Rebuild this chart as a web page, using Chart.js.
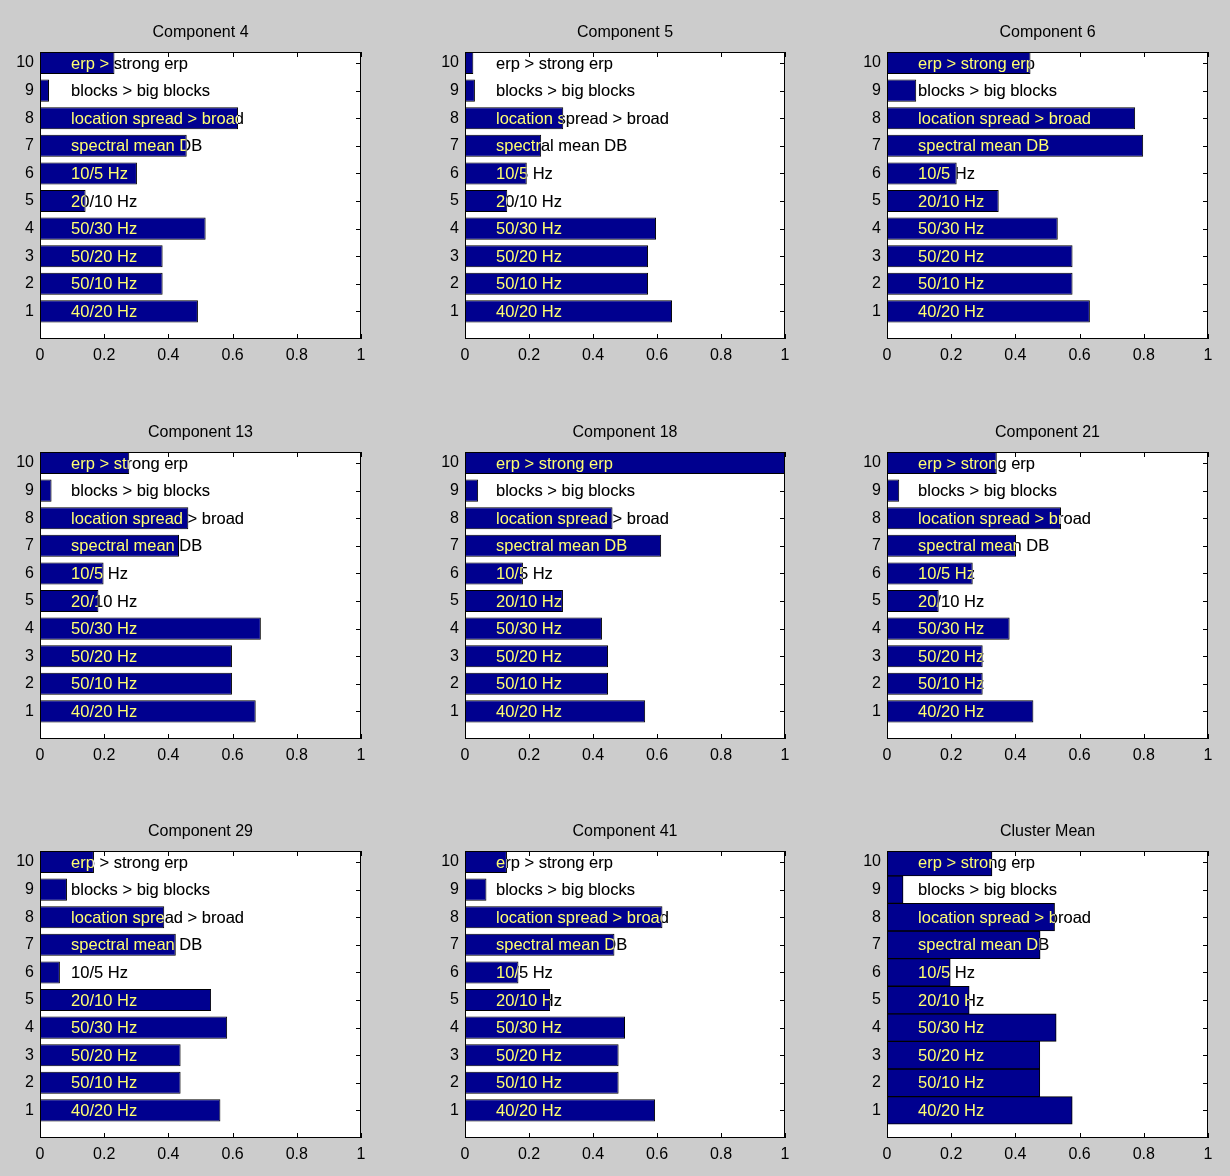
<!DOCTYPE html>
<html>
<head>
<meta charset="utf-8">
<script src="https://cdn.jsdelivr.net/npm/chart.js@4.4.0/dist/chart.umd.min.js"></script>
<style>
  html, body { margin: 0; padding: 0; background: #cccccc; }
  body { width: 1230px; height: 1176px; position: relative; overflow: hidden; }
  canvas { position: absolute; }
</style>
</head>
<body>
<script>
// Feature labels, drawn inside each plot at bar positions 1..10
const categories = [
  '40/20 Hz', '50/10 Hz', '50/20 Hz', '50/30 Hz', '20/10 Hz',
  '10/5 Hz', 'spectral mean DB', 'location spread > broad',
  'blocks > big blocks', 'erp > strong erp'
];
const barPositions = [1, 2, 3, 4, 5, 6, 7, 8, 9, 10];
const xTickValues = [0, 0.2, 0.4, 0.6, 0.8, 1];
const yTickValues = [1, 2, 3, 4, 5, 6, 7, 8, 9, 10];

const panelTitles = [
  'Component 4', 'Component 5', 'Component 6',
  'Component 13', 'Component 18', 'Component 21',
  'Component 29', 'Component 41', 'Cluster Mean'
];

// Bar lengths per panel, in bar-position order 1..10
const comp4  = [0.492, 0.382, 0.382, 0.516, 0.142, 0.302, 0.457, 0.617, 0.028, 0.232];
const comp5  = [0.647, 0.572, 0.572, 0.597, 0.132, 0.193, 0.238, 0.307, 0.031, 0.026];
const comp6  = [0.632, 0.578, 0.578, 0.532, 0.348, 0.217, 0.798, 0.773, 0.091, 0.447];
const comp13 = [0.672, 0.598, 0.598, 0.688, 0.182, 0.198, 0.433, 0.462, 0.036, 0.278];
const comp18 = [0.563, 0.447, 0.447, 0.428, 0.306, 0.181, 0.613, 0.461, 0.041, 1.000];
const comp21 = [0.456, 0.298, 0.298, 0.382, 0.161, 0.267, 0.402, 0.542, 0.038, 0.342];
const comp29 = [0.562, 0.438, 0.438, 0.583, 0.533, 0.062, 0.423, 0.387, 0.084, 0.168];
const comp41 = [0.594, 0.480, 0.480, 0.500, 0.266, 0.167, 0.467, 0.617, 0.067, 0.131];
const clusterMean = [0.577, 0.476, 0.476, 0.527, 0.256, 0.197, 0.477, 0.522, 0.050, 0.327];

const panelValues = [comp4, comp5, comp6, comp13, comp18, comp21, comp29, comp41, clusterMean];

// Grid geometry (plot-area placement on the page)
const colLeft  = [40, 465, 887];
const colWidth = [321, 320, 321];
const rowTop   = [52, 452, 851];
const plotH    = 287;
const yAxisW   = 40;
const titleH   = 52;
const xAxisH   = 40;
const padRight = 20;

const FONT = '"Liberation Sans", Arial, Helvetica, sans-serif';
const BAR_COLOR = 'rgb(0,0,143)';

const matlabAxes = {
  id: 'matlabAxes',
  beforeDraw(chart) {
    const { ctx, chartArea: a } = chart;
    ctx.save();
    ctx.fillStyle = '#ffffff';
    ctx.fillRect(a.left, a.top, a.right - a.left, a.bottom - a.top);
    ctx.restore();
  },
  beforeDatasetsDraw(chart) {
    // inward tick marks on all four sides
    const { ctx, chartArea: a, scales } = chart;
    const L = 5;
    ctx.save();
    ctx.strokeStyle = '#000';
    ctx.lineWidth = 1;
    ctx.beginPath();
    scales.x.ticks.forEach(t => {
      const px = Math.round(scales.x.getPixelForValue(t.value)) + 0.5;
      ctx.moveTo(px, a.bottom); ctx.lineTo(px, a.bottom - L);
      ctx.moveTo(px, a.top); ctx.lineTo(px, a.top + L);
    });
    scales.y.ticks.forEach(t => {
      const py = Math.round(scales.y.getPixelForValue(t.value)) + 0.5;
      ctx.moveTo(a.left, py); ctx.lineTo(a.left + L, py);
      ctx.moveTo(a.right, py); ctx.lineTo(a.right - L, py);
    });
    ctx.stroke();
    ctx.restore();
  },
  afterDatasetsDraw(chart) {
    // labels inverted against whatever lies beneath them
    const { ctx, chartArea: a, scales } = chart;
    ctx.save();
    ctx.beginPath();
    ctx.rect(a.left, a.top, a.right - a.left, a.bottom - a.top);
    ctx.clip();
    ctx.globalCompositeOperation = 'difference';
    ctx.fillStyle = '#ffffff';
    ctx.font = '16.5px ' + FONT;
    ctx.textAlign = 'left';
    ctx.textBaseline = 'alphabetic';
    const x0 = scales.x.getPixelForValue(0.1) - 1;
    categories.forEach((txt, i) => {
      const y = scales.y.getPixelForValue(barPositions[i]) + 5.5;
      ctx.fillText(txt, x0, y);
    });
    ctx.restore();
  },
  afterDraw(chart) {
    const { ctx, chartArea: a } = chart;
    ctx.save();
    ctx.strokeStyle = '#000';
    ctx.lineWidth = 1;
    ctx.strokeRect(a.left + 0.5, a.top + 0.5, a.right - a.left - 1, a.bottom - a.top - 1);
    ctx.restore();
  }
};

panelValues.forEach((vals, k) => {
  const r = Math.floor(k / 3), c = k % 3;
  const w = colWidth[c];
  const canvas = document.createElement('canvas');
  const cw = yAxisW + w + padRight;
  const ch = titleH + plotH + xAxisH;
  canvas.width = cw; canvas.height = ch;
  canvas.style.width = cw + 'px'; canvas.style.height = ch + 'px';
  canvas.style.left = (colLeft[c] - yAxisW) + 'px';
  canvas.style.top = (rowTop[r] - titleH) + 'px';
  document.body.appendChild(canvas);

  const isMean = k === 8;
  new Chart(canvas, {
    type: 'bar',
    data: {
      datasets: [{
        data: barPositions.map((p, i) => ({ x: vals[i], y: p })),
        backgroundColor: BAR_COLOR,
        borderColor: '#000000',
        borderWidth: 1,
        borderSkipped: false,
        barPercentage: isMean ? 1.0 : 0.8,
        categoryPercentage: 1.0
      }]
    },
    options: {
      indexAxis: 'y',
      responsive: false,
      animation: false,
      events: [],
      layout: { padding: { left: 0, top: 0, right: padRight, bottom: 0 } },
      plugins: {
        legend: { display: false },
        tooltip: { enabled: false },
        title: {
          display: true,
          text: panelTitles[k],
          color: '#000',
          fullSize: false,
          font: { family: FONT, size: 16, weight: 'normal' },
          padding: { top: 22.5, bottom: 10.3 }
        }
      },
      scales: {
        x: {
          type: 'linear',
          position: 'bottom',
          min: 0, max: 1,
          offset: false,
          grid: { display: false, drawTicks: false },
          border: { display: false },
          afterBuildTicks(s) { s.ticks = xTickValues.map(v => ({ value: v })); },
          afterFit(s) { s.height = xAxisH; },
          ticks: {
            color: '#000',
            padding: 7,
            maxRotation: 0,
            autoSkip: false,
            font: { family: FONT, size: 16 },
            callback: v => String(v)
          }
        },
        y: {
          type: 'linear',
          position: 'left',
          min: 0, max: 10.4,
          offset: false,
          grid: { display: false, drawTicks: false },
          border: { display: false },
          afterBuildTicks(s) { s.ticks = yTickValues.map(v => ({ value: v })); },
          afterFit(s) { s.width = yAxisW; },
          ticks: {
            color: '#000',
            padding: 6,
            autoSkip: false,
            font: { family: FONT, size: 16 },
            callback: v => String(v)
          }
        }
      }
    },
    plugins: [matlabAxes]
  });
});
</script>
</body>
</html>
